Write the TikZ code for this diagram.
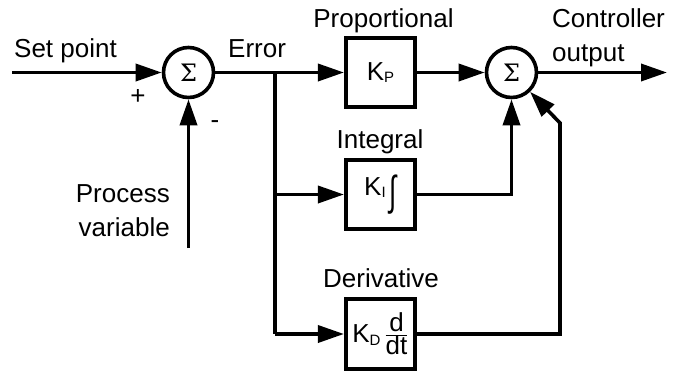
\documentclass[tikz,border=0pt]{standalone}
\usepackage{fontspec}
\setmainfont{Liberation Sans}
\newfontfamily\sigmafont{DejaVu Serif}
\usetikzlibrary{arrows.meta}

\tikzset{
  wire/.style={line width=3.6pt},
  arr/.style={wire, -{Triangle[length=26pt,width=17pt]}},
  sumnode/.style={circle, draw, line width=3.6pt, minimum size=50pt, inner sep=0pt,
    font=\sigmafont\fontsize{24}{24}\selectfont},
  blk/.style={rectangle, draw, line width=3.6pt, minimum width=69.5pt, minimum height=69.5pt,
    inner sep=0pt},
  lbl/.style={inner sep=0pt},
}
\newcommand{\subsc}[1]{\raisebox{-2.5pt}{\fontsize{15}{15}\selectfont #1}}

\begin{document}
\begin{tikzpicture}[x=1pt, y=-1pt, font=\fontsize{26}{34}\selectfont]
\useasboundingbox (0,0) rectangle (673,373);

% summing junctions
\node[sumnode] (s1) at (188.5,72.5) {Σ};
\node[sumnode] (s2) at (511.5,72.5) {Σ};

% gain blocks
\node[blk] (kp) at (380.5,72.5) {K\subsc{P}};
\node[blk] (ki) at (380.5,194.5) {K\subsc{I}\hspace{4pt}\raisebox{-10pt}{\scalebox{1}[1.6]{∫}}};
\node[blk] (kd) at (380.5,334) {K\subsc{D}\hspace{4pt}\raisebox{1pt}{$\frac{\mbox{d}}{\mbox{dt}}$}};

% connection points
\coordinate (sp) at (12,72.5);
\coordinate (pv) at (188.5,248);
\coordinate (br) at (275,72.5);
\coordinate (bi) at (275,194.5);
\coordinate (bd) at (275,334);
\coordinate (out) at (667,72.5);
\coordinate (dc1) at (560,334);
\coordinate (dc2) at (560,123);

% signal flow
\draw[arr] (sp) -- (s1);
\draw[arr] (pv) -- (s1);
\draw[arr] (s1) -- (kp);
\draw[wire] (br) -- (bd);
\draw[arr] (bi) -- (ki);
\draw[arr] (bd) -- (kd);
\draw[arr] (kp) -- (s2);
\draw[arr] (ki) -| (s2);
\draw[arr] (kd.east) -- (dc1) -- (dc2) -- (s2);
\draw[arr] (s2) -- (out);

% labels
\node[lbl, anchor=base west] (tsp) at (14,57) {Set point};
\node[lbl, anchor=base west] (terr) at (228,57) {Error};
\node[lbl] (tplus) at (138,97) {+};
\node[lbl] (tminus) at (215,125) {-};
\node[lbl, anchor=east, align=right] (tpv) at (170,210.7) {Process\\variable};
\node[lbl, anchor=base] (tprop) at (383.5,27) {Proportional};
\node[lbl, anchor=base] (tint) at (380,148) {Integral};
\node[lbl, anchor=base] (tder) at (381,287) {Derivative};
\node[lbl, anchor=west, align=left] (tout) at (552,37.3) {Controller\\output};
\end{tikzpicture}
\end{document}
